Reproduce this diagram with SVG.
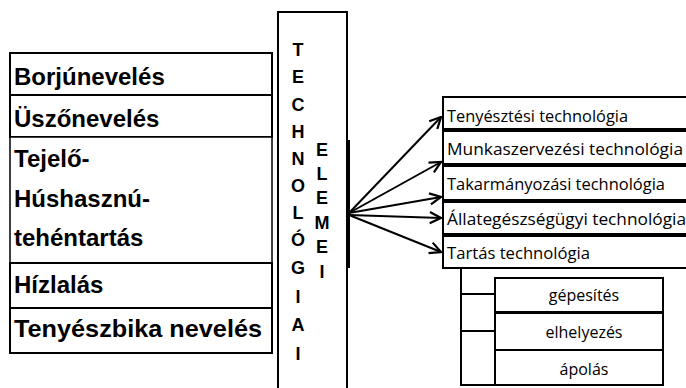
<svg xmlns="http://www.w3.org/2000/svg" width="686" height="388" viewBox="0 0 686 388">
<defs>
<style>
.box{fill:#fff;stroke:#000;stroke-width:2}
.lb{font-family:"Liberation Sans",Arial,sans-serif;font-weight:bold;font-size:24px;fill:#000}
.vl{font-family:"Liberation Sans",Arial,sans-serif;font-weight:bold;font-size:18px;fill:#000;text-anchor:middle}
.rt{font-family:"Open Sans","Liberation Sans",sans-serif;font-size:16px;fill:#000}
.st{font-family:"Open Sans","Liberation Sans",sans-serif;font-size:16px;fill:#000;text-anchor:middle}
.ln{fill:none;stroke:#000;stroke-width:2}
</style>
<marker id="ah" viewBox="0 0 10 10" refX="9" refY="5" markerWidth="7" markerHeight="7" orient="auto">
<path d="M1,1 L9,5 L1,9" fill="none" stroke="#000" stroke-width="1.6"/>
</marker>
</defs>
<rect width="686" height="388" fill="#fff"/>

<g id="borjunev"><rect class="box" x="10" y="53" width="262" height="42"/><text class="lb" x="14" y="85">Borjúnevelés</text></g>
<g id="uszonev"><rect class="box" x="10" y="95" width="262" height="42"/><text class="lb" x="14" y="127">Üszőnevelés</text></g>
<g id="tejelo"><rect class="box" x="10" y="137" width="262" height="126" style="stroke-width:1.5"/><text class="lb" x="14" y="167">Tejelő-</text><text class="lb" x="14" y="207">Húshasznú-</text><text class="lb" x="14" y="246">tehéntartás</text></g>
<g id="hizlalas"><rect class="box" x="10" y="263" width="262" height="45"/><text class="lb" x="14" y="293">Hízlalás</text></g>
<g id="tenyeszbika"><rect class="box" x="10" y="308" width="262" height="45"/><text class="lb" x="14" y="337" textLength="248" lengthAdjust="spacingAndGlyphs">Tenyészbika nevelés</text></g>

<g id="technologiai">
<rect class="box" x="278" y="12" width="69" height="390"/>
<line x1="349" y1="140" x2="349" y2="268" stroke="#000" stroke-width="2"/>
<text class="vl" x="298" y="56">T</text>
<text class="vl" x="298" y="83">E</text>
<text class="vl" x="298" y="111">C</text>
<text class="vl" x="298" y="138">H</text>
<text class="vl" x="298" y="165">N</text>
<text class="vl" x="298" y="192">O</text>
<text class="vl" x="298" y="219">L</text>
<text class="vl" x="298" y="246">Ó</text>
<text class="vl" x="298" y="274">G</text>
<text class="vl" x="298" y="303">I</text>
<text class="vl" x="298" y="331">A</text>
<text class="vl" x="298" y="360">I</text>
<text class="vl" x="322" y="156">E</text>
<text class="vl" x="322" y="180">L</text>
<text class="vl" x="322" y="204">E</text>
<text class="vl" x="322" y="229">M</text>
<text class="vl" x="322" y="253">E</text>
<text class="vl" x="322" y="278">I</text>
</g>

<g id="tenyesztesi"><rect class="box" x="443" y="97" width="260" height="32"/><text class="rt" x="447" y="122" textLength="181" lengthAdjust="spacingAndGlyphs">Tenyésztési technológia</text></g>
<g id="munkaszerv"><rect class="box" x="443" y="131" width="260" height="33"/><text class="rt" x="447" y="155" textLength="236" lengthAdjust="spacingAndGlyphs">Munkaszervezési technológia</text></g>
<g id="takarmany"><rect class="box" x="443" y="166" width="260" height="34"/><text class="rt" x="447" y="190" textLength="218" lengthAdjust="spacingAndGlyphs">Takarmányozási technológia</text></g>
<g id="allategeszseg"><rect class="box" x="443" y="202" width="260" height="32"/><text class="rt" x="447" y="225" textLength="239" lengthAdjust="spacingAndGlyphs">Állategészségügyi technológia</text></g>
<g id="tartas"><rect class="box" x="443" y="236" width="260" height="32"/><text class="rt" x="447" y="259" textLength="143" lengthAdjust="spacingAndGlyphs">Tartás technológia</text></g>

<g id="gepesites"><rect class="box" x="495" y="278" width="168" height="34"/><text class="st" x="584" y="301">gépesítés</text></g>
<g id="elhelyezes"><rect class="box" x="495" y="313" width="168" height="37"/><text class="st" x="584" y="338">elhelyezés</text></g>
<g id="apolas"><rect class="box" x="495" y="350" width="168" height="35"/><text class="st" x="584" y="375">ápolás</text></g>

<g id="connectors">
<line class="ln" x1="349" y1="213" x2="441" y2="117" marker-end="url(#ah)"/>
<line class="ln" x1="349" y1="213" x2="441" y2="162" marker-end="url(#ah)"/>
<line class="ln" x1="349" y1="213" x2="441" y2="197" marker-end="url(#ah)"/>
<line class="ln" x1="349" y1="215" x2="441" y2="218" marker-end="url(#ah)"/>
<line class="ln" x1="349" y1="215" x2="441" y2="252" marker-end="url(#ah)"/>
<polyline class="ln" points="461,268 461,385 495,385"/>
<line class="ln" x1="461" y1="294" x2="495" y2="294"/>
<line class="ln" x1="461" y1="331" x2="495" y2="331"/>
</g>
</svg>
